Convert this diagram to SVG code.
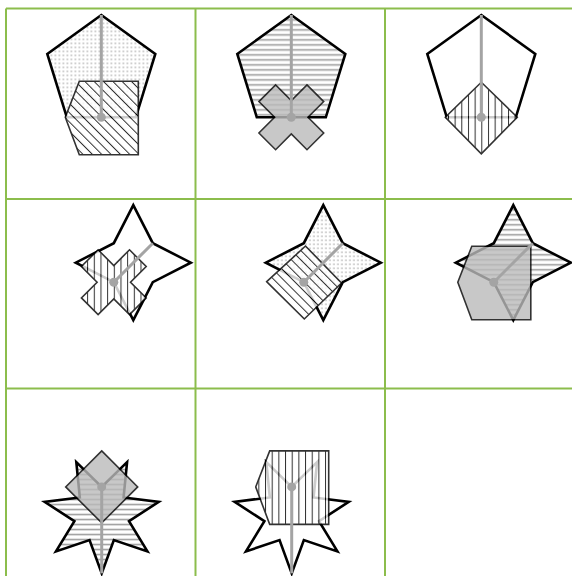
<svg xmlns="http://www.w3.org/2000/svg" width="572" height="576" viewBox="0 0 572 576">
<style>
.grid{stroke:#8cbd4c;stroke-width:2;fill:none}
.main{stroke:#000;stroke-width:2.6;stroke-linejoin:miter}
.sec{opacity:0.8}
.sec polygon{stroke:#000;stroke-width:1.6}
.ptr{stroke:#a4a4a4;stroke-width:3;stroke-linecap:butt}
.dot{fill:#a4a4a4}
</style>
<defs>
<pattern id="dots" width="4" height="4" patternUnits="userSpaceOnUse"><rect x="1.5" y="1.5" width="1.2" height="1.2" fill="#888"/></pattern>
<pattern id="hstripes" width="5" height="5" patternUnits="userSpaceOnUse"><rect width="5" height="5" fill="#fff"/><rect x="0" y="1.8" width="5" height="1.6" fill="#9e9e9e"/></pattern>
<pattern id="vhatch" width="6.67" height="10" patternUnits="userSpaceOnUse"><rect width="6.67" height="10" fill="#fff"/><rect x="0" y="0" width="1" height="10" fill="#000"/></pattern>
<pattern id="dhatch" width="6.6" height="10" patternUnits="userSpaceOnUse" patternTransform="rotate(-45)"><rect width="6.6" height="10" fill="#fff"/><rect x="0" y="0" width="1" height="10" fill="#000"/></pattern>
</defs>

<g id="grid">
<line class="grid" x1="6" y1="8.5" x2="572" y2="8.5"/>
<line class="grid" x1="6" y1="199" x2="572" y2="199"/>
<line class="grid" x1="6" y1="388.5" x2="572" y2="388.5"/>
<line class="grid" x1="6" y1="8.5" x2="6" y2="576"/>
<line class="grid" x1="195.5" y1="8.5" x2="195.5" y2="576"/>
<line class="grid" x1="385" y1="8.5" x2="385" y2="576"/>
</g>

<g id="cell1" transform="translate(101.3,117.3)">
<polygon class="main" fill="url(#dots)" points="0,-102.3 54,-63.3 34.5,0 -34.5,0 -54,-63.3"/>
<g class="sec"><polygon fill="url(#dhatch)" points="-22,-36 37,-36 37,37.5 -22,37.5 -36,0"/></g>
<line class="ptr" x1="0" y1="0" x2="0" y2="-102.3"/>
<circle class="dot" cx="0" cy="0" r="4.5"/>
</g>

<g id="cell2" transform="translate(291.3,117.3)">
<polygon class="main" fill="url(#hstripes)" points="0,-102.3 54,-63.3 34.5,0 -34.5,0 -54,-63.3"/>
<g class="sec"><polygon fill="#bbb" points="-32.4,15.7 -15.7,32.4 0,16.7 15.7,32.4 32.4,15.7 16.7,0 32.4,-15.7 15.7,-32.4 0,-16.7 -15.7,-32.4 -32.4,-15.7 -16.7,0"/></g>
<line class="ptr" x1="0" y1="0" x2="0" y2="-102.3"/>
<circle class="dot" cx="0" cy="0" r="4.5"/>
</g>

<g id="cell3" transform="translate(481.3,117.3)">
<polygon class="main" fill="none" points="0,-102.3 54,-63.3 34.5,0 -34.5,0 -54,-63.3"/>
<g class="sec"><polygon fill="url(#vhatch)" points="0,-35 36,0 0,36.5 -36,0"/></g>
<line class="ptr" x1="0" y1="0" x2="0" y2="-102.3"/>
<circle class="dot" cx="0" cy="0" r="4.5"/>
</g>

<g id="cell4" transform="translate(113.8,282.2)">
<polygon class="main" fill="none" points="19.5,-77 39,-39 77,-19.5 39,0 19.5,38 0,0 -38,-19.5 0,-39"/>
<g class="sec"><polygon fill="url(#vhatch)" points="-32.4,15.7 -15.7,32.4 0,16.7 15.7,32.4 32.4,15.7 16.7,0 32.4,-15.7 15.7,-32.4 0,-16.7 -15.7,-32.4 -32.4,-15.7 -16.7,0"/></g>
<line class="ptr" x1="0" y1="0" x2="39" y2="-39"/>
<circle class="dot" cx="0" cy="0" r="4.5"/>
</g>

<g id="cell5" transform="translate(303.8,282.2)">
<polygon class="main" fill="url(#dots)" points="19.5,-77 39,-39 77,-19.5 39,0 19.5,38 0,0 -38,-19.5 0,-39"/>
<g class="sec"><polygon fill="url(#dhatch)" points="-37.1,-0.5 1.7,-36.2 37.7,0.8 0.5,36.8"/></g>
<line class="ptr" x1="0" y1="0" x2="39" y2="-39"/>
<circle class="dot" cx="0" cy="0" r="4.5"/>
</g>

<g id="cell6" transform="translate(493.8,282.2)">
<polygon class="main" fill="url(#hstripes)" points="19.5,-77 39,-39 77,-19.5 39,0 19.5,38 0,0 -38,-19.5 0,-39"/>
<g class="sec"><polygon fill="#bbb" points="-22,-36 37,-36 37,37.5 -22,37.5 -36,0"/></g>
<line class="ptr" x1="0" y1="0" x2="39" y2="-39"/>
<circle class="dot" cx="0" cy="0" r="4.5"/>
</g>

<g id="cell7" transform="translate(101.7,486.9)">
<polygon class="main" fill="url(#hstripes)" points="0,86.5 -12.15,53.23 -45.74,64.48 -27.3,34.23 -57.03,14.98 -21.89,10.54 -25.38,-24.71 0,0 25.38,-24.71 21.89,10.54 57.03,14.98 27.3,34.23 45.74,64.48 12.15,53.23"/>
<g class="sec"><polygon fill="#bbb" points="0,-36 36,0 0,36 -36,0"/></g>
<line class="ptr" x1="0" y1="0" x2="0" y2="86.5"/>
<circle class="dot" cx="0" cy="0" r="4.5"/>
</g>

<g id="cell8" transform="translate(291.7,486.9)">
<polygon class="main" fill="none" points="0,86.5 -12.15,53.23 -45.74,64.48 -27.3,34.23 -57.03,14.98 -21.89,10.54 -25.38,-24.71 0,0 25.38,-24.71 21.89,10.54 57.03,14.98 27.3,34.23 45.74,64.48 12.15,53.23"/>
<g class="sec"><polygon fill="url(#vhatch)" points="-22,-36 37,-36 37,37.5 -22,37.5 -36,0"/></g>
<line class="ptr" x1="0" y1="0" x2="0" y2="86.5"/>
<circle class="dot" cx="0" cy="0" r="4.5"/>
</g>
</svg>
